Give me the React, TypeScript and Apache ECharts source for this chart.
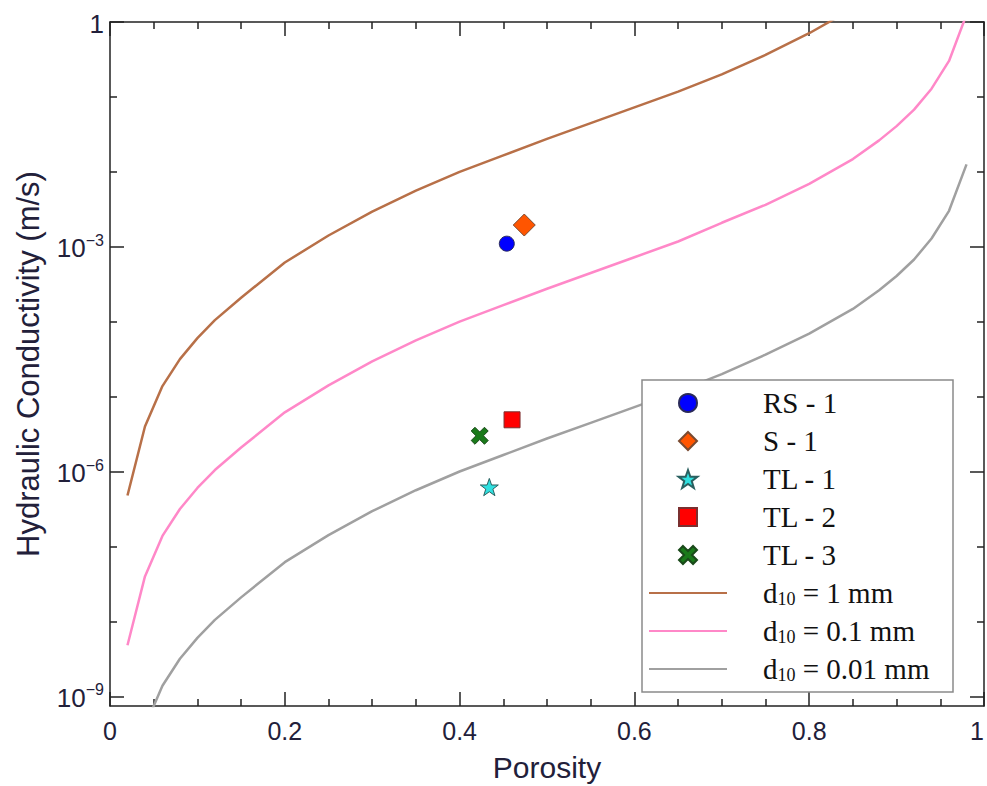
import React, { useEffect, useRef } from 'react';
import * as echarts from 'echarts';

// Porosity sample points for the Kozeny–Carman-type curves
const porosity = [0.02, 0.04, 0.06, 0.08, 0.10, 0.12, 0.15, 0.20, 0.25, 0.30, 0.35, 0.40, 0.45, 0.50, 0.55, 0.60, 0.65, 0.70, 0.75, 0.80, 0.85, 0.88, 0.90, 0.92, 0.94, 0.96, 0.98];
// log10 of hydraulic conductivity (m/s) for each curve
const log10K_d10_1mm: (number | null)[] = [-6.32, -5.40, -4.86, -4.50, -4.22, -3.98, -3.68, -3.21, -2.85, -2.53, -2.25, -2.00, -1.78, -1.56, -1.35, -1.14, -0.93, -0.70, -0.44, -0.15, 0.18, null, null, null, null, null, null];
const log10K_d10_01mm: (number | null)[] = [-8.32, -7.40, -6.86, -6.50, -6.22, -5.98, -5.68, -5.21, -4.85, -4.53, -4.25, -4.00, -3.78, -3.56, -3.35, -3.14, -2.93, -2.68, -2.44, -2.16, -1.83, -1.58, -1.39, -1.17, -0.89, -0.52, 0.10];
const log10K_d10_001mm: (number | null)[] = [-10.32, -9.40, -8.86, -8.50, -8.22, -7.98, -7.68, -7.21, -6.85, -6.53, -6.25, -6.00, -5.78, -5.56, -5.35, -5.14, -4.93, -4.70, -4.44, -4.16, -3.83, -3.58, -3.39, -3.17, -2.89, -2.52, -1.90];

const curveNames = ['d10 = 1 mm', 'd10 = 0.1 mm', 'd10 = 0.01 mm'];

// Measured samples
const sampleNames = ['RS - 1', 'S - 1', 'TL - 1', 'TL - 2', 'TL - 3'];
const samplePorosity = [0.454, 0.474, 0.434, 0.460, 0.423];
const sampleK = [1.1e-3, 1.95e-3, 6.2e-7, 4.9e-6, 3.0e-6];

// Axis ticks (decades)
const yMajorDecades = [-9, -6, -3, 0];
const yMinorDecades = [-8, -7, -5, -4, -2, -1];

const STAR = 'path://M50 0 L62 35 L98 35 L69 57 L80 92 L50 71 L20 92 L31 57 L2 35 L38 35 Z';
const CROSS = 'path://M22 0 L50 28 L78 0 L100 22 L72 50 L100 78 L78 100 L50 72 L22 100 L0 78 L28 50 L0 22 Z';
const DIAMOND = 'path://M50 0 L100 50 L50 100 L0 50 Z';
const SQUARE = 'path://M0 0 L100 0 L100 100 L0 100 Z';
const CIRCLE = 'circle';

const sampleStyles = [
  { symbol: CIRCLE, size: 15, color: '#0000ff', border: '#2a2a5a' },
  { symbol: DIAMOND, size: 22, color: '#ff5500', border: '#7a4a30' },
  { symbol: STAR, size: 18, color: '#30e0e0', border: '#2a6060' },
  { symbol: SQUARE, size: 16, color: '#ff0000', border: '#7a3030' },
  { symbol: CROSS, size: 17, color: '#1a7a1a', border: '#1a4a1a' },
];
const curveColors = ['#b87048', '#ff88c8', '#a0a0a0'];

const Y_MIN = -9.13;
const Y_MAX = 0;
const AXIS_COLOR = '#222222';
const TEXT_COLOR = '#22203a';

export default function App() {
  const ref = useRef<HTMLDivElement>(null);
  useEffect(() => {
    if (!ref.current) return;
    const chart = echarts.init(ref.current, undefined, { renderer: 'svg' });

    const lineStyle = { color: AXIS_COLOR, width: 1.5 };
    const curves = [log10K_d10_1mm, log10K_d10_01mm, log10K_d10_001mm];

    const lineSeries = curves.map((arr, k) => ({
      type: 'line',
      name: curveNames[k],
      xAxisIndex: 0,
      yAxisIndex: 0,
      data: porosity.map((x, i) => [x, arr[i]]).filter((p) => p[1] !== null),
      showSymbol: false,
      symbol: 'none',
      color: curveColors[k],
      lineStyle: { width: 2.5, color: curveColors[k] },
      clip: true,
      z: 2,
    }));

    const scatterSeries = sampleNames.map((name, i) => ({
      type: 'scatter',
      name,
      xAxisIndex: 0,
      yAxisIndex: 0,
      data: [[samplePorosity[i], Math.log10(sampleK[i])]],
      symbol: sampleStyles[i].symbol,
      symbolSize: sampleStyles[i].size,
      symbolKeepAspect: true,
      itemStyle: { color: sampleStyles[i].color, borderColor: sampleStyles[i].border, borderWidth: 1, opacity: 1 },
      z: 5,
    }));

    const yBase = {
      type: 'value',
      min: Y_MIN,
      max: Y_MAX,
      splitLine: { show: false },
    };

    const legendData = [
      ...sampleNames.map((n, i) => ({ name: n, icon: sampleStyles[i].symbol })),
      ...curveNames.map((n) => ({ name: n, itemStyle: { opacity: 0 } })),
    ];

    const option: any = {
      animation: false,
      textStyle: { fontFamily: 'Liberation Sans' },
      grid: { left: 110, right: 3, top: 22, bottom: 80, containLabel: false, outerBoundsMode: 'none' },
      xAxis: [
        {
          type: 'value',
          min: 0,
          max: 1,
          interval: 0.2,
          position: 'bottom',
          name: 'Porosity',
          nameLocation: 'middle',
          nameGap: 46,
          nameTextStyle: { fontSize: 30, color: TEXT_COLOR, fontFamily: 'Liberation Sans' },
          axisLine: { show: true, onZero: false, lineStyle },
          axisTick: { show: true, inside: true, length: 14, lineStyle },
          minorTick: { show: true, splitNumber: 4, length: 7, lineStyle },
          axisLabel: { fontSize: 25, color: TEXT_COLOR, margin: 12, fontFamily: 'Liberation Sans', alignMaxLabel: 'right' },
          splitLine: { show: false },
        },
        {
          type: 'value',
          min: 0,
          max: 1,
          interval: 0.2,
          position: 'top',
          axisLine: { show: true, onZero: false, lineStyle },
          axisTick: { show: true, inside: true, length: 14, lineStyle },
          minorTick: { show: true, splitNumber: 4, length: 7, lineStyle },
          axisLabel: { show: false },
          splitLine: { show: false },
        },
      ],
      yAxis: [
        {
          ...yBase,
          position: 'left',
          name: 'Hydraulic Conductivity (m/s)',
          nameLocation: 'middle',
          nameGap: 66,
          nameTextStyle: { fontSize: 31, color: TEXT_COLOR, fontFamily: 'Liberation Sans' },
          axisLine: { show: true, onZero: false, lineStyle },
          axisTick: { show: true, inside: true, length: 14, lineStyle, customValues: yMajorDecades },
          axisLabel: {
            customValues: yMajorDecades,
            margin: 6,
            formatter: (v: number) => (Math.round(v) === 0 ? '{b|1}' : `{b|10}{p|\u2212${Math.abs(Math.round(v))}}`),
            rich: {
              b: { fontSize: 26, color: TEXT_COLOR, fontFamily: 'Liberation Sans', padding: [3, 0, 0, 0] },
              p: { fontSize: 16, color: TEXT_COLOR, fontFamily: 'Liberation Sans', verticalAlign: 'top' },
            },
          },
        },
        {
          ...yBase,
          position: 'left',
          axisLine: { show: false, onZero: false },
          axisTick: { show: true, inside: true, length: 7, lineStyle, customValues: yMinorDecades },
          axisLabel: { show: false },
        },
        {
          ...yBase,
          position: 'right',
          axisLine: { show: true, onZero: false, lineStyle },
          axisTick: { show: true, inside: true, length: 14, lineStyle, customValues: yMajorDecades },
          axisLabel: { show: false },
        },
        {
          ...yBase,
          position: 'right',
          axisLine: { show: false, onZero: false },
          axisTick: { show: true, inside: true, length: 7, lineStyle, customValues: yMinorDecades },
          axisLabel: { show: false },
        },
      ],
      legend: {
        orient: 'vertical',
        left: 642,
        top: 380,
        data: legendData,
        itemWidth: 78,
        itemHeight: 18,
        itemGap: 8,
        padding: [8, 10, 8, 6],
        borderColor: '#8a8a8a',
        borderWidth: 1.5,
        backgroundColor: '#ffffff',
        selectedMode: false,
        symbolKeepAspect: true,
        formatter: (name: string) =>
          name.startsWith('d10') ? `{t|d}{s|10}{t|${name.slice(3)}}` : `{t|${name}}`,
        textStyle: {
          fontFamily: 'Liberation Serif',
          fontSize: 29,
          color: '#111111',
          lineHeight: 30,
          padding: [0, 0, 0, 31],
          width: 180,
          rich: {
            t: { fontFamily: 'Liberation Serif', fontSize: 29, lineHeight: 30, color: '#111111' },
            s: { fontFamily: 'Liberation Serif', fontSize: 18, lineHeight: 18, color: '#111111', verticalAlign: 'bottom' },
          },
        },
      },
      series: [...lineSeries, ...scatterSeries],
    };

    chart.setOption(option);
    return () => chart.dispose();
  }, []);

  return <div ref={ref} style={{ position: 'absolute', left: 0, top: 0, width: 987, height: 786 }} />;
}
